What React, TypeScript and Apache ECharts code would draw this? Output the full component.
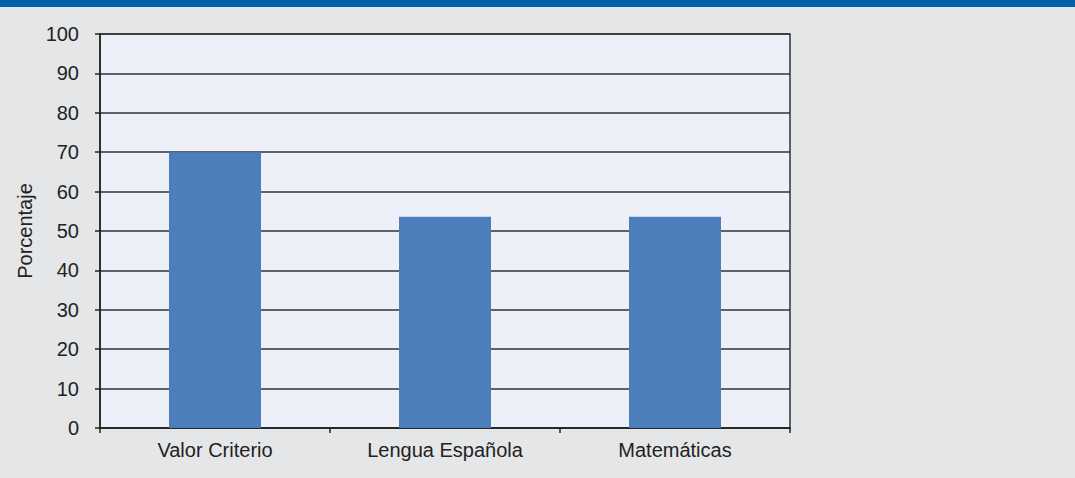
import React, { useEffect, useRef } from "react";
import * as echarts from "echarts";

const categories = ["Valor Criterio", "Lengua Española", "Matemáticas"];
const values = [70, 53.6, 53.6];
const yAxisName = "Porcentaje";

const FONT = "'Liberation Sans', Arial, sans-serif";

export default function App() {
  const ref = useRef<HTMLDivElement>(null);
  useEffect(() => {
    if (!ref.current) return;
    const chart = echarts.init(ref.current, undefined, { renderer: "svg" });
    chart.setOption({
      animation: false,
      backgroundColor: "#E5E6E8",
      textStyle: { fontFamily: FONT },
      graphic: [
        {
          type: "rect",
          left: 0,
          top: 0,
          shape: { width: 1075, height: 7 },
          style: { fill: "#0061AA" },
        },
      ],
      grid: {
        left: 100,
        top: 34,
        right: 285,
        bottom: 50,
        show: true,
        backgroundColor: "#EDF0F8",
        borderColor: "#333",
        borderWidth: 1.5,
      },
      xAxis: {
        type: "category",
        data: categories,
        boundaryGap: true,
        axisLine: { show: true, lineStyle: { color: "#222", width: 1.5 } },
        axisTick: { show: true, length: 5, lineStyle: { color: "#222", width: 1.5 } },
        axisLabel: { color: "#222", fontSize: 20, fontFamily: FONT, margin: 12 },
      },
      yAxis: {
        type: "value",
        min: 0,
        max: 100,
        interval: 10,
        name: yAxisName,
        nameLocation: "middle",
        nameGap: 62,
        nameRotate: 90,
        nameTextStyle: { color: "#222", fontSize: 20, fontFamily: FONT },
        axisLine: { show: true, lineStyle: { color: "#222", width: 1.5 } },
        axisTick: { show: true, length: 5, lineStyle: { color: "#222", width: 1.5 } },
        axisLabel: { color: "#222", fontSize: 20, fontFamily: FONT, margin: 21 },
        splitLine: { show: true, lineStyle: { color: "#333", width: 1.5 } },
      },
      series: [
        {
          type: "bar",
          data: values,
          barWidth: "40%",
          itemStyle: { color: "#4C7EBC" },
        },
      ],
    });
    return () => chart.dispose();
  }, []);
  return (
    <div
      ref={ref}
      style={{ position: "absolute", left: 0, top: 0, width: 1075, height: 478 }}
    />
  );
}
